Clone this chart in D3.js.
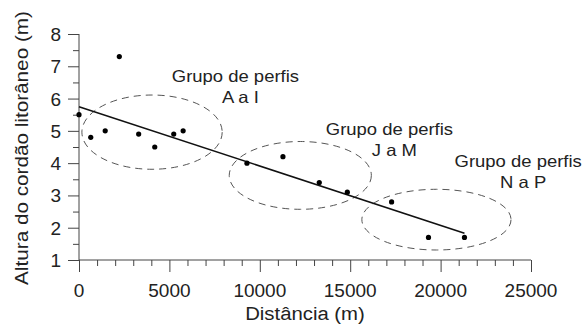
<!DOCTYPE html>
<html>
<head>
<meta charset="utf-8">
<script src="https://cdn.jsdelivr.net/npm/d3@7"></script>
<style>
  body { margin: 0; background: #fff; }
  text { font-family: "Liberation Sans", Arial, sans-serif; fill: #222; }
</style>
</head>
<body>
<div id="chart"></div>
<script>
// data
const distances = [0, 650, 1450, 2230, 3300, 4190, 5240, 5760, 9290, 11280, 13290, 14840, 17290, 19330, 21320];
const heights = [5.5, 4.8, 5.0, 7.3, 4.9, 4.5, 4.9, 5.0, 4.0, 4.2, 3.4, 3.1, 2.8, 1.7, 1.7];

// fitted trend line (end points)
const trendX = [0, 21320];
const trendY = [5.75, 1.83];

// groups of profiles: ellipse centre / radii in data units, label anchor
const groupNames = ["A a I", "J a M", "N a P"];
const groupCx = [4040, 12240, 19770];
const groupCy = [4.96, 3.62, 2.25];
const groupRx = [3880, 3930, 4125];
const groupRy = [1.15, 1.05, 0.94];
const labelX = [8650, 17170, 24290];
const labelY = [6.5, 4.87, 3.87];

const xTicks = [0, 5000, 10000, 15000, 20000, 25000];
const yTicks = [1, 2, 3, 4, 5, 6, 7, 8];

// 1. SETUP
const width = 584;
const height = 326;
const margin = {top: 34, right: 53, bottom: 66, left: 79};

const svg = d3.select("#chart")
    .append("svg")
    .attr("width", width)
    .attr("height", height);

const x = d3.scaleLinear().domain([0, 25000]).range([margin.left, width - margin.right]);
const y = d3.scaleLinear().domain([1, 8]).range([height - margin.bottom, margin.top]);

const axisColor = "#444";

// 2. AXES
const xAxis = svg.append("g").attr("transform", `translate(0,${y(1)})`);
xAxis.call(d3.axisBottom(x).tickValues(d3.range(0, 25001, 1000)).tickSize(6).tickFormat(""));
xAxis.selectAll(".tick line").filter(d => d % 5000 === 0).attr("y2", 12);
xAxis.selectAll("path, line").attr("stroke", axisColor);
xAxis.select(".domain").attr("d", `M${x(0)},0H${x(25000)}`);

const yAxis = svg.append("g").attr("transform", `translate(${x(0)},0)`);
yAxis.call(d3.axisLeft(y).tickValues(d3.range(1, 8.01, 0.5)).tickSize(6).tickFormat(""));
yAxis.selectAll(".tick line").filter(d => d % 1 === 0).attr("x2", -11);
yAxis.selectAll("path, line").attr("stroke", axisColor);
yAxis.select(".domain").attr("d", `M0,${y(1)}V${y(8)}`);

svg.append("g").selectAll("text").data(xTicks).join("text")
    .attr("x", d => x(d))
    .attr("y", y(1) + 37)
    .attr("text-anchor", "middle")
    .style("font-size", "19px")
    .text(d => d);

svg.append("g").selectAll("text").data(yTicks).join("text")
    .attr("x", x(0) - 18)
    .attr("y", d => y(d) + 7)
    .attr("text-anchor", "end")
    .style("font-size", "19px")
    .text(d => d);

svg.append("text")
    .attr("transform", `translate(${(x(0) + x(25000)) / 2},${height - 6}) scale(1.07,1)`)
    .attr("text-anchor", "middle")
    .style("font-size", "19px")
    .text("Distância (m)");

svg.append("text")
    .attr("transform", `translate(28,${(y(1) + y(8)) / 2 + 1}) rotate(-90) scale(1.12,1)`)
    .attr("text-anchor", "middle")
    .style("font-size", "18.5px")
    .text("Altura do cordão litorâneo (m)");

// 3. MARKS
svg.append("g").selectAll("ellipse").data(groupNames).join("ellipse")
    .attr("cx", (d, i) => x(groupCx[i]))
    .attr("cy", (d, i) => y(groupCy[i]))
    .attr("rx", (d, i) => x(groupRx[i]) - x(0))
    .attr("ry", (d, i) => y(1) - y(1 + groupRy[i]))
    .attr("fill", "none")
    .attr("stroke", "#555")
    .attr("stroke-width", 1)
    .attr("stroke-dasharray", "7,5");

svg.append("line")
    .attr("x1", x(trendX[0])).attr("y1", y(trendY[0]))
    .attr("x2", x(trendX[1])).attr("y2", y(trendY[1]))
    .attr("stroke", "#111")
    .attr("stroke-width", 1.6);

svg.append("g").selectAll("circle").data(distances).join("circle")
    .attr("cx", d => x(d))
    .attr("cy", (d, i) => y(heights[i]))
    .attr("r", 2.6)
    .attr("fill", "#000");

const labels = svg.append("g").selectAll("g").data(groupNames).join("g")
    .attr("transform", (d, i) => `translate(${x(labelX[i])},${y(labelY[i])})`);
labels.append("text")
    .attr("transform", "scale(1.12,1)")
    .attr("text-anchor", "middle")
    .style("font-size", "16.5px")
    .text("Grupo de perfis");
labels.append("text")
    .attr("transform", "translate(5,21) scale(1.12,1)")
    .attr("text-anchor", "middle")
    .style("font-size", "16.5px")
    .text(d => d);
</script>
</body>
</html>
